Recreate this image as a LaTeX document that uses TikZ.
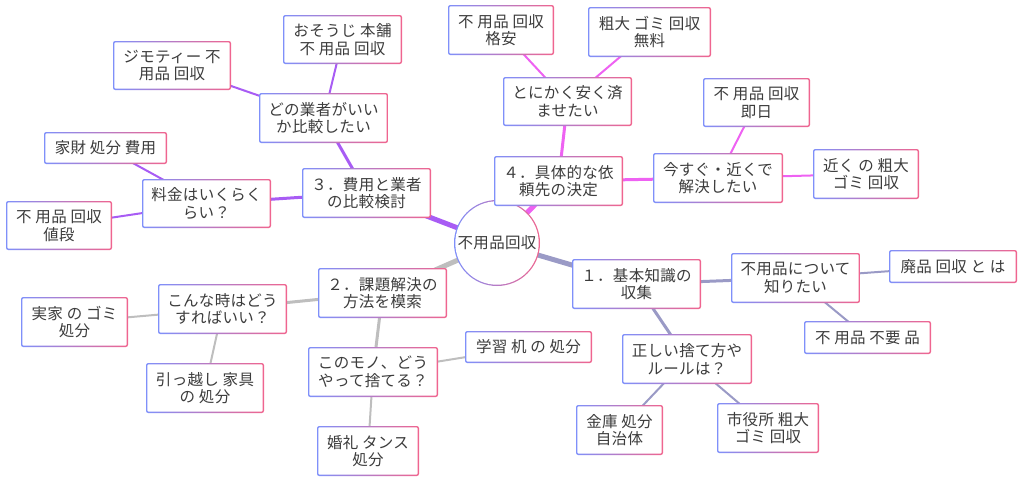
\documentclass[tikz,border=0pt]{standalone}
\usepackage{fontspec}
\setmainfont{Noto Sans CJK JP}[LetterSpace=2]
\usetikzlibrary{backgrounds}
\definecolor{bdrL}{HTML}{7F90FA}
\definecolor{bdrR}{HTML}{F0658F}
\definecolor{txt}{HTML}{3C3C3C}
\definecolor{cA}{HTML}{9A9AC6}
\definecolor{cB}{HTML}{BEBEBE}
\definecolor{cC}{HTML}{A85CF4}
\definecolor{cD}{HTML}{EE62F2}
\tikzset{
  box/.style={rectangle, rounded corners=2.2pt, inner sep=0pt, align=center,
    text=txt, font=\fontsize{15.5pt}{17.5pt}\selectfont,
    shade, left color=bdrL, right color=bdrR,
    path picture={\fill[white, rounded corners=1.2pt]
      ([shift={(1.3pt,1.3pt)}]path picture bounding box.south west) rectangle
      ([shift={(-1.3pt,-1.3pt)}]path picture bounding box.north east);}},
  hub/.style={circle, minimum size=86pt, inner sep=0pt, align=center,
    text=txt, font=\fontsize{15.5pt}{18pt}\selectfont,
    shade, left color=bdrL, right color=bdrR,
    path picture={\fill[white] (path picture bounding box.center) circle (41.7pt);}},
  main/.style={line width=5pt},
  sub/.style={line width=3pt},
  leaf/.style={line width=2pt}
}
\begin{document}
\begin{tikzpicture}[x=1pt,y=-1pt]
\path[use as bounding box] (0,0) rectangle (1024,482);
% hub
\node[hub] (c) at (497,243) {不用品回収};
% branch 1
\node[box, minimum width=129pt, minimum height=50pt] (b1) at (636.5,284) {１．基本知識の\\収集};
\node[box, minimum width=129pt, minimum height=50pt] (b1a) at (795.5,278) {不用品について\\知りたい};
\node[box, minimum width=128pt, minimum height=33pt] (b1a1) at (953,266.5) {廃品 回収 と は};
\node[box, minimum width=127pt, minimum height=33pt] (b1a2) at (867.5,337.5) {不 用品 不要 品};
\node[box, minimum width=130pt, minimum height=50pt] (b1b) at (687,359) {正しい捨て方や\\ルールは？};
\node[box, minimum width=87pt, minimum height=50pt] (b1b1) at (619.5,430) {金庫 処分\\自治体};
\node[box, minimum width=102pt, minimum height=50pt] (b1b2) at (768,428) {市役所 粗大\\ゴミ 回収};
% branch 2
\node[box, minimum width=129pt, minimum height=50pt] (b2) at (382.5,293) {２．課題解決の\\方法を模索};
\node[box, minimum width=129pt, minimum height=50pt] (b2a) at (222.5,309) {こんな時はどう\\すればいい？};
\node[box, minimum width=107pt, minimum height=50pt] (b2a1) at (74.5,322) {実家 の ゴミ\\処分};
\node[box, minimum width=118pt, minimum height=50pt] (b2a2) at (205,388) {引っ越し 家具\\の 処分};
\node[box, minimum width=130pt, minimum height=50pt] (b2b) at (373,372) {このモノ、どう\\やって捨てる？};
\node[box, minimum width=127pt, minimum height=32pt] (b2b1) at (528.5,347) {学習 机 の 処分};
\node[box, minimum width=102pt, minimum height=50pt] (b2b2) at (368,451) {婚礼 タンス\\処分};
% branch 3
\node[box, minimum width=129pt, minimum height=50pt] (b3) at (366.5,193) {３．費用と業者\\の比較検討};
\node[box, minimum width=129pt, minimum height=50pt] (b3a) at (323.5,118) {どの業者がいい\\か比較したい};
\node[box, minimum width=118pt, minimum height=49pt] (b3a1) at (172,65.5) {ジモティー 不\\用品 回収};
\node[box, minimum width=119pt, minimum height=49pt] (b3a2) at (342.5,39.5) {おそうじ 本舗\\不 用品 回収};
\node[box, minimum width=129pt, minimum height=49pt] (b3b) at (206.5,203.5) {料金はいくらく\\らい？};
\node[box, minimum width=123pt, minimum height=32pt] (b3b1) at (105.5,148) {家財 処分 費用};
\node[box, minimum width=106pt, minimum height=49pt] (b3b2) at (59,225.5) {不 用品 回収\\値段};
% branch 4
\node[box, minimum width=129pt, minimum height=50pt] (b4) at (558.5,181) {４．具体的な依\\頼先の決定};
\node[box, minimum width=129pt, minimum height=49pt] (b4a) at (567.5,101.5) {とにかく安く済\\ませたい};
\node[box, minimum width=106pt, minimum height=50pt] (b4a1) at (501,30) {不 用品 回収\\格安};
\node[box, minimum width=123pt, minimum height=50pt] (b4a2) at (649.5,32) {粗大 ゴミ 回収\\無料};
\node[box, minimum width=130pt, minimum height=50pt] (b4b) at (718,178) {今すぐ・近くで\\解決したい};
\node[box, minimum width=107pt, minimum height=49pt] (b4b1) at (756.5,102.5) {不 用品 回収\\即日};
\node[box, minimum width=106pt, minimum height=50pt] (b4b2) at (866,174) {近く の 粗大\\ゴミ 回収};
% connectors
\begin{scope}[on background layer]
\draw[cA, main] (c.center) -- (b1.center);
\draw[cA, sub] (b1.center) -- (b1a.center);
\draw[cA, sub] (b1.center) -- (b1b.center);
\draw[cA, leaf] (b1a.center) -- (b1a1.center);
\draw[cA, leaf] (b1a.center) -- (b1a2.center);
\draw[cA, leaf] (b1b.center) -- (b1b1.center);
\draw[cA, leaf] (b1b.center) -- (b1b2.center);
\draw[cB, main] (c.center) -- (b2.center);
\draw[cB, sub] (b2.center) -- (b2a.center);
\draw[cB, sub] (b2.center) -- (b2b.center);
\draw[cB, leaf] (b2a.center) -- (b2a1.center);
\draw[cB, leaf] (b2a.center) -- (b2a2.center);
\draw[cB, leaf] (b2b.center) -- (b2b1.center);
\draw[cB, leaf] (b2b.center) -- (b2b2.center);
\draw[cC, main] (c.center) -- (b3.center);
\draw[cC, sub] (b3.center) -- (b3a.center);
\draw[cC, sub] (b3.center) -- (b3b.center);
\draw[cC, leaf] (b3a.center) -- (b3a1.center);
\draw[cC, leaf] (b3a.center) -- (b3a2.center);
\draw[cC, leaf] (b3b.center) -- (b3b1.center);
\draw[cC, leaf] (b3b.center) -- (b3b2.center);
\draw[cD, main] (c.center) -- (b4.center);
\draw[cD, sub] (b4.center) -- (b4a.center);
\draw[cD, sub] (b4.center) -- (b4b.center);
\draw[cD, leaf] (b4a.center) -- (b4a1.center);
\draw[cD, leaf] (b4a.center) -- (b4a2.center);
\draw[cD, leaf] (b4b.center) -- (b4b1.center);
\draw[cD, leaf] (b4b.center) -- (b4b2.center);
\end{scope}
\end{tikzpicture}
\end{document}
